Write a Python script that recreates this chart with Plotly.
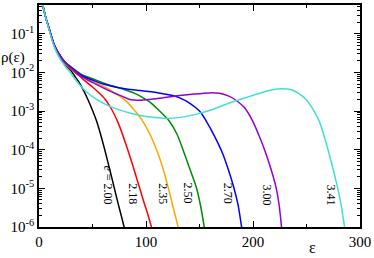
import numpy as np
import plotly.graph_objects as go

# ---- data: energy eps and log10(rho) ----
eps_200 = [3.7, 6, 9.3, 14, 18.6, 24, 28.9, 33, 36.6, 40.4, 46, 53.8, 60, 66, 70, 73.9, 77, 80]
log_200 = [-0.28, -0.55, -0.86, -1.28, -1.54, -1.78, -1.92, -2.08, -2.22, -2.40, -2.72, -3.26, -3.85, -4.50, -4.95, -5.39, -5.72, -6.05]

eps_218 = [3.7, 6, 9.3, 14, 18.6, 24, 30, 37.3, 43, 49.7, 55, 62, 68, 73.9, 81.7, 90, 97.2, 102, 105.6]
log_218 = [-0.28, -0.55, -0.86, -1.28, -1.53, -1.76, -1.92, -2.08, -2.22, -2.37, -2.50, -2.70, -2.96, -3.30, -3.90, -4.62, -5.28, -5.70, -6.05]

eps_235 = [3.7, 6, 9.3, 14, 18.6, 24, 30, 40, 50, 58, 66.2, 74, 81.7, 88, 95.7, 104, 111.2, 116, 120.5, 125, 130.5]
log_235 = [-0.28, -0.55, -0.86, -1.28, -1.53, -1.75, -1.90, -2.08, -2.22, -2.33, -2.45, -2.59, -2.75, -2.94, -3.21, -3.62, -4.10, -4.50, -4.95, -5.45, -6.05]

eps_250 = [3.7, 6, 9.3, 14, 18.6, 24, 30, 40, 50.6, 60, 70, 81.7, 90, 97, 103.4, 112, 122, 129, 136, 141, 147, 151, 154.7]
log_250 = [-0.28, -0.55, -0.85, -1.27, -1.51, -1.72, -1.86, -2.06, -2.17, -2.27, -2.36, -2.46, -2.55, -2.65, -2.76, -2.98, -3.27, -3.60, -4.11, -4.50, -4.97, -5.45, -6.05]

eps_270 = [3.7, 6, 9.3, 14, 18.6, 24, 30, 40, 50, 60, 70, 81.7, 95, 105, 115.8, 125, 131.4, 140, 150, 156.3, 164, 171.8, 177, 182, 186, 189.6]
log_270 = [-0.28, -0.55, -0.85, -1.27, -1.52, -1.73, -1.87, -2.08, -2.20, -2.30, -2.37, -2.43, -2.47, -2.50, -2.55, -2.60, -2.66, -2.78, -3.00, -3.26, -3.65, -4.11, -4.52, -4.97, -5.42, -6.05]

eps_300 = [3.7, 6, 9.3, 14, 18.6, 24, 30, 40, 50, 60, 70, 78, 84.8, 94.1, 103.4, 115, 131.4, 145, 159.3, 168.7, 178, 185, 192, 199.7, 206, 212.2, 217, 221.5, 224.5, 226.8]
log_300 = [-0.28, -0.55, -0.85, -1.27, -1.52, -1.74, -1.89, -2.11, -2.26, -2.40, -2.53, -2.62, -2.70, -2.72, -2.70, -2.66, -2.60, -2.56, -2.53, -2.54, -2.62, -2.74, -2.91, -3.26, -3.66, -4.11, -4.52, -4.97, -5.45, -6.05]

eps_341 = [3.7, 6, 9.3, 14, 18.6, 24.9, 28.9, 33, 37.3, 45, 55, 66.2, 75, 84.8, 97.2, 108, 119, 130, 147, 160, 178, 190, 205, 218, 227.7, 236, 243, 249.5, 256, 261.9, 266.5, 271.2, 275, 279, 282.5, 285.8]
log_341 = [-0.28, -0.56, -0.88, -1.32, -1.60, -1.86, -1.99, -2.15, -2.30, -2.52, -2.72, -2.88, -2.97, -3.05, -3.13, -3.17, -3.19, -3.17, -3.08, -2.98, -2.79, -2.68, -2.55, -2.45, -2.42, -2.45, -2.55, -2.70, -2.95, -3.26, -3.65, -4.11, -4.52, -4.97, -5.45, -6.05]

labels = ["<i>e</i> = 2.00", "2.18", "2.35", "2.50", "2.70", "3.00", "3.41"]
label_eps = [64.3, 87.9, 115.9, 139.2, 176.4, 212.8, 272.8]
label_log = [-4.92, -5.13, -5.13, -5.13, -5.13, -5.18, -5.18]

x_ticks = [0, 100, 200, 300]
y_tick_exp = [-6, -5, -4, -3, -2, -1]

colors = ["#000000", "#ff0000", "#ffa500", "#008b00", "#0000ff", "#9400d3", "#40e0d0"]

series = [(eps_200, log_200), (eps_218, log_218), (eps_235, log_235), (eps_250, log_250),
          (eps_270, log_270), (eps_300, log_300), (eps_341, log_341)]

fig = go.Figure()
for (ex, lg), c in zip(series, colors):
    fig.add_trace(go.Scatter(x=ex, y=10.0 ** np.array(lg), mode="lines",
                             line=dict(color=c, width=1.5, shape="spline", smoothing=0.8),
                             showlegend=False, hoverinfo="skip"))

font = dict(family="Liberation Serif, Times New Roman, serif", color="black")

for t, ex, lg in zip(labels, label_eps, label_log):
    fig.add_annotation(x=ex, y=lg, xref="x", yref="y", text=t, showarrow=False,
                       textangle=90, xanchor="center", yanchor="middle",
                       font=dict(size=12, **font))

minor_y = [m * 10.0 ** k for k in range(-6, 0) for m in range(2, 10)]
minor_y = [v for v in minor_y if v < 0.55]

fig.update_xaxes(range=[0, 300], tickvals=x_ticks, ticktext=[str(v) for v in x_ticks],
                 ticks="inside", ticklen=6, tickwidth=1, tickcolor="black",
                 showline=True, linecolor="black", linewidth=1.5, mirror="allticks",
                 showgrid=False, zeroline=False, tickfont=dict(size=15, **font),
                 minor=dict(tickvals=[50, 150, 250], ticks="inside", ticklen=3,
                            tickcolor="black", showgrid=False))
fig.update_yaxes(type="log", range=[-6, -0.256],
                 tickvals=[10.0 ** e for e in y_tick_exp],
                 ticktext=["10<sup>%d</sup>" % e for e in y_tick_exp],
                 ticks="inside", ticklen=6, tickwidth=1, tickcolor="black",
                 showline=True, linecolor="black", linewidth=1.5, mirror="allticks",
                 showgrid=False, zeroline=False, tickfont=dict(size=15, **font),
                 ticklabelstandoff=0,
                 minor=dict(tickvals=minor_y, ticks="inside", ticklen=3,
                            tickcolor="black", showgrid=False))

fig.add_annotation(x=-0.08, y=0.765, xref="paper", yref="paper", text="ρ(ε)",
                   xanchor="center", yanchor="middle",
                   showarrow=False, font=dict(size=15, **font))
fig.add_annotation(x=0.851, y=-0.094, xref="paper", yref="paper", text="ε",
                   xanchor="center", yanchor="middle",
                   showarrow=False, font=dict(size=16, **font))

fig.update_layout(width=374, height=258, margin=dict(l=39, r=13, t=3, b=31),
                  plot_bgcolor="white", paper_bgcolor="white")
fig.write_html("out.html", config={"displayModeBar": False},
               post_script="document.body.style.margin='0';")
